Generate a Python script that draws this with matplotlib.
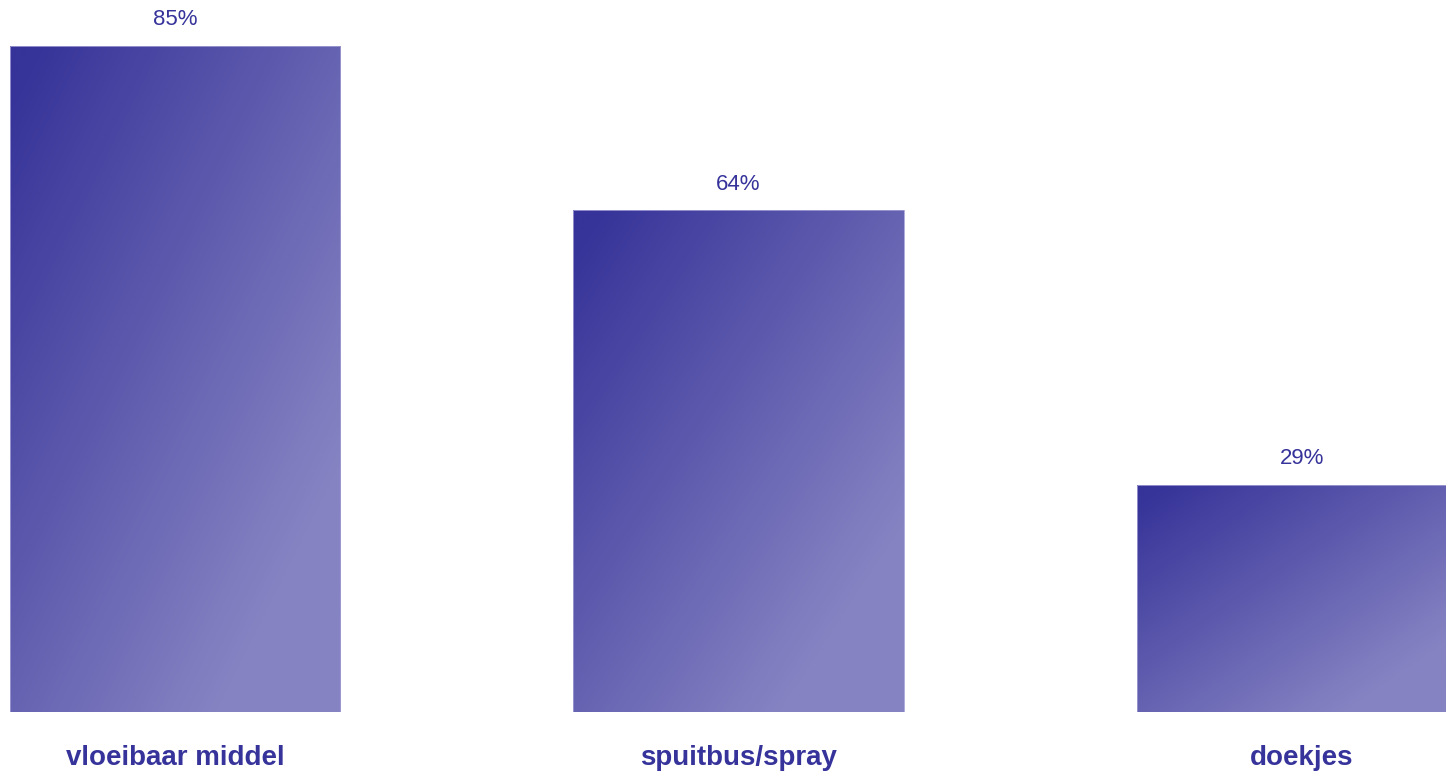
import numpy as np
import matplotlib.pyplot as plt
from matplotlib.colors import LinearSegmentedColormap

categories = ["vloeibaar middel", "spuitbus/spray", "doekjes"]
values = [85, 64, 29]
value_labels = ["85%", "64%", "29%"]

text_color = "#36339a"
grad = LinearSegmentedColormap.from_list("grad", ["#363399", "#8683c3"])

plt.rcParams["font.family"] = ["Liberation Sans", "DejaVu Sans"]

fig = plt.figure(figsize=(14.46, 7.73), dpi=100)
ax = fig.add_axes([0, (773 - 712) / 773, 1, 712 / 773])

x = np.arange(len(categories))
bars = ax.bar(x, values, width=0.587, color="none", edgecolor="#a09dd2", linewidth=0.6, zorder=3)

# diagonal gradient inside each bar, dark top-left -> light bottom-right
u = np.linspace(0, 1, 200)
U, V = np.meshgrid(u, u)
t = np.clip((U + V) * 0.64 - 0.04, 0, 1)
for b in bars:
    x0, w, h = b.get_x(), b.get_width(), b.get_height()
    im = ax.imshow(t, cmap=grad, vmin=0, vmax=1, extent=(x0, x0 + w, 0, h),
                   origin="upper", aspect="auto", interpolation="bilinear", zorder=2)
    im.set_clip_path(b)

for b, lab in zip(bars, value_labels):
    ax.annotate(lab, (b.get_x() + b.get_width() / 2, b.get_height()),
                xytext=(0, 11), textcoords="offset points",
                ha="center", va="bottom", fontsize=16, color=text_color)

for xi, cat in zip(x, categories):
    ax.annotate(cat, (xi, 0), xytext=(0, -33), textcoords="offset points",
                ha="center", va="center", fontsize=20, fontweight="bold",
                color=text_color, annotation_clip=False)

ax.set_xlim(-175 / 563.5, (1446 - 175) / 563.5)
ax.set_ylim(0, 712 / 7.84)
ax.axis("off")

plt.savefig("out.png", dpi=100)
